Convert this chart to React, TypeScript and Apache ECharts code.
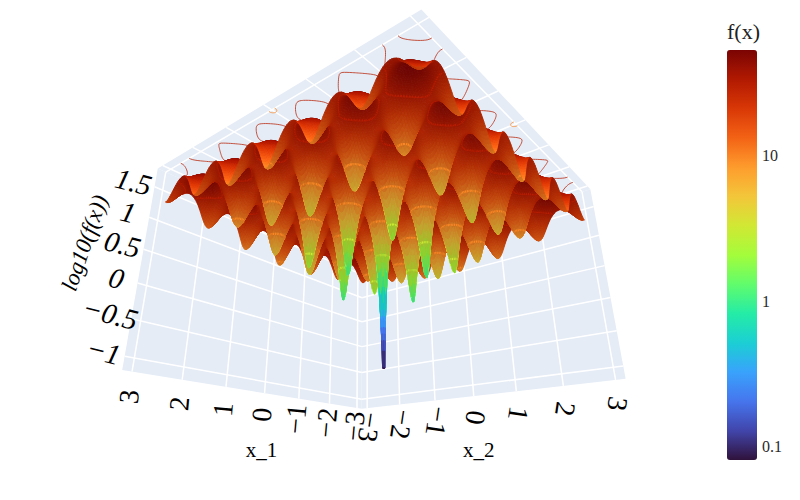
import React, { useEffect, useRef } from "react";
import * as echarts from "echarts";

// Half axis of the sampled grid (mirrored to negative side) and the ridge profile read along one axis
const halfAxis = [0.0143,0.022,0.03125,0.04,0.0625,0.09375,0.125,0.15625,0.1875,0.21875,0.25,0.28125,0.3125,0.34375,0.375,0.40625,0.4375,0.46875,0.5,0.53125,0.5625,0.59375,0.625,0.65625,0.6875,0.71875,0.75,0.78125,0.8125,0.84375,0.875,0.90625,0.9375,0.96875,1,1.03125,1.0625,1.09375,1.125,1.15625,1.1875,1.21875,1.25,1.28125,1.3125,1.34375,1.375,1.40625,1.4375,1.46875,1.5,1.53125,1.5625,1.59375,1.625,1.65625,1.6875,1.71875,1.75,1.78125,1.8125,1.84375,1.875,1.90625,1.9375,1.96875,2,2.03125,2.0625,2.09375,2.125,2.15625,2.1875,2.21875,2.25,2.28125,2.3125,2.34375,2.375,2.40625,2.4375,2.46875,2.5,2.53125,2.5625,2.59375,2.625,2.65625,2.6875,2.71875,2.75,2.78125,2.8125,2.84375,2.875,2.90625,2.9375,2.96875,3];
const halfProfile = [0.0406,0.096,0.193,0.316,0.765,1.694,2.945,4.468,6.208,8.097,10.063,12.03,13.925,15.674,17.212,18.48,19.43,20.028,20.25,20.09,19.555,18.668,17.462,15.987,14.3,12.468,10.563,8.659,6.833,5.156,3.695,2.506,1.64,1.13,1,1.255,1.89,2.881,4.195,5.781,7.583,9.534,11.563,13.593,15.55,17.362,18.962,20.293,21.305,21.965,22.25,22.153,21.68,20.855,19.712,18.299,16.675,14.905,13.063,11.222,9.458,7.843,6.445,5.319,4.515,4.068,4,4.318,5.015,6.069,7.445,9.093,10.958,12.972,15.063,17.155,19.175,21.049,22.712,24.105,25.18,25.903,26.25,26.215,25.805,25.043,23.962,22.612,21.05,19.343,17.563,15.784,14.083,12.531,11.195,10.131,9.39,9.005,9];
const turbo = ["#30123b","#4145ab","#4675ed","#39a2fc","#1bcfd4","#24eca6","#61fc6c","#a4fc3b","#d1e834","#f3c63a","#fe9b2d","#f36315","#d93806","#b11901","#7a0403"];
const xTicks = [3,2,1,0,-1,-2,-3];
const yTicks = [-3,-2,-1,0,1,2,3];
const zTicks = [1.5,1,0.5,0,-0.5,-1];
const contourLevels = [0.5,1,1.5];
const colorTicks: [string, number][] = [["10",1],["1",0],["0.1",-1]];

const B = 3.18, ZMIN = -1.175, ZMAX = 1.81, CMIN = -1.09, CMAX = 1.728;
const zc = (ZMIN+ZMAX)/2, zh = (ZMAX-ZMIN)/2;

// camera calibration: box landmarks to screen
const anchors = [
  [B,-B,ZMIN,122,370],[-B,-B,ZMIN,362,409],[-B,B,ZMIN,626,379],
  [B,-B,ZMAX,158,168],[-B,B,ZMAX,590,188],[B,B,ZMAX,422,10],
  [-B,-B,1,362,298],[-B,-B,0,362,347],[B,-B,1,149,218],[B,-B,0,137,283],
  [0,-B,ZMIN,265,392],[-B,0,ZMIN,473,396],[-B,B,1,599,236],
];
const nx = (x:number,y:number,z:number)=>[x/B,y/B,(z-zc)/zh,1];
function solve(A:number[][],b:number[]){
  const n=b.length; const M=A.map((r,i)=>[...r,b[i]]);
  for(let c=0;c<n;c++){
    let p=c; for(let r=c+1;r<n;r++) if(Math.abs(M[r][c])>Math.abs(M[p][c])) p=r;
    [M[c],M[p]]=[M[p],M[c]];
    for(let r=0;r<n;r++){ if(r===c) continue; const f=M[r][c]/M[c][c]; for(let k=c;k<=n;k++) M[r][k]-=f*M[c][k]; }
  }
  return M.map((r,i)=>r[n]/r[i]);
}
const cam=(()=>{
  const rows:number[][]=[],rhs:number[]=[];
  for(const [x,y,z,u0,v0] of anchors){
    const X=nx(x,y,z),u=(u0-400)/400,v=(v0-250)/400;
    rows.push([...X,0,0,0,0,-u*X[0],-u*X[1],-u*X[2]]);rhs.push(u);
    rows.push([0,0,0,0,...X,-v*X[0],-v*X[1],-v*X[2]]);rhs.push(v);
  }
  const N=11; const A:number[][]=[],b:number[]=[];
  for(let i=0;i<N;i++){ A.push(new Array(N).fill(0)); b.push(0);
    rows.forEach((r,k)=>{ for(let j=0;j<N;j++) A[i][j]+=r[i]*r[j]; b[i]+=r[i]*rhs[k]; }); }
  return solve(A,b);
})();
function project(x:number,y:number,z:number){
  const X=nx(x,y,z);
  const w=cam[8]*X[0]+cam[9]*X[1]+cam[10]*X[2]+1;
  const u=(cam[0]*X[0]+cam[1]*X[1]+cam[2]*X[2]+cam[3])/w;
  const v=(cam[4]*X[0]+cam[5]*X[1]+cam[6]*X[2]+cam[7])/w;
  return [u*400+400,v*400+250,w];
}
function colorAt(z:number){
  const t=Math.min(1,Math.max(0,(z-CMIN)/(CMAX-CMIN)))*(turbo.length-1);
  const i=Math.min(turbo.length-2,Math.floor(t)),f=t-i;
  const a=echarts.color.parse(turbo[i]),b=echarts.color.parse(turbo[i+1]);
  return `rgb(${Math.round(a[0]+(b[0]-a[0])*f)},${Math.round(a[1]+(b[1]-a[1])*f)},${Math.round(a[2]+(b[2]-a[2])*f)})`;
}
const signedArea=(p:number[][])=>{let s=0;for(let k=0;k<p.length;k++){const a=p[k],b=p[(k+1)%p.length];s+=a[0]*b[1]-b[0]*a[1];}return s;};
const underSign=Math.sign(signedArea([project(0,0,0),project(1,0,0),project(1,1,0),project(0,1,0)]));

const gridX=[...halfAxis.map(v=>-v).reverse(),...halfAxis];
const profile=[...[...halfProfile].reverse(),...halfProfile];
const Z=profile.map(a=>profile.map(b=>Math.log10(a+b)));

type Seg={p:number[];q:number[];color:string};
type Cell={pts:number[][];shade:number;lines:Seg[];depth:number;z:number};
let cells:Cell[]=[];
const ceilingSegs:Seg[]=[];
for(let i=0;i<gridX.length-1;i++) for(let j=0;j<gridX.length-1;j++){
  const xa=gridX[i],xb=gridX[i+1],ya=gridX[j],yb=gridX[j+1];
  const za=Z[i][j],zb=Z[i+1][j],zcc=Z[i+1][j+1],zd=Z[i][j+1];
  const corners=[[xa,ya,za],[xb,ya,zb],[xb,yb,zcc],[xa,yb,zd]];
  const pts=corners.map(c=>project(c[0],c[1],c[2]));
  const gx=((zb+zcc-za-zd)/2/zh)/((xb-xa)/B), gy=((zcc+zd-za-zb)/2/zh)/((yb-ya)/B);
  const len=Math.sqrt(1+gx*gx+gy*gy);
  const zMean=(za+zb+zcc+zd)/4;
  const isTopSide=Math.sign(signedArea(pts))!==underSign;
  const shade=isTopSide?1.05:0.8+0.07/len+0.17*Math.min(1,Math.max(0,0.5-zMean));
  const mid=project((xa+xb)/2,(ya+yb)/2,zMean);
  const lines:Seg[]=[];
  for(const lv of contourLevels){
    const cr:number[][]=[];
    for(let e=0;e<4;e++){
      const c0=corners[e],c1=corners[(e+1)%4];
      if((c0[2]<lv)!==(c1[2]<lv)){
        const t=(lv-c0[2])/(c1[2]-c0[2]);
        cr.push([c0[0]+(c1[0]-c0[0])*t,c0[1]+(c1[1]-c0[1])*t]);
      }
    }
    for(let k=0;k+1<cr.length;k+=2){
      const color=colorAt(lv);
      lines.push({p:project(cr[k][0],cr[k][1],lv),q:project(cr[k+1][0],cr[k+1][1],lv),color});
      ceilingSegs.push({p:project(cr[k][0],cr[k][1],ZMAX),q:project(cr[k+1][0],cr[k+1][1],ZMAX),color});
    }
  }
  cells.push({pts,shade,lines,depth:mid[2],z:zMean});
}
// near to far: drop cells wholly behind what is already painted, then paint far to near
cells.sort((a,b)=>a.depth-b.depth);
{
  const W=800,H=500,mask=new Uint8Array(W*H);
  const kept:Cell[]=[];
  for(const c of cells){
    let x0=1e9,x1=-1e9,y0=1e9,y1=-1e9;
    for(const p of c.pts){x0=Math.min(x0,p[0]);x1=Math.max(x1,p[0]);y0=Math.min(y0,p[1]);y1=Math.max(y1,p[1]);}
    const bx0=Math.max(0,Math.floor(x0)-1),bx1=Math.min(W-1,Math.ceil(x1)+1),by0=Math.max(0,Math.floor(y0)-1),by1=Math.min(H-1,Math.ceil(y1)+1);
    let hidden=true;
    for(let y=by0;y<=by1&&hidden;y++) for(let x=bx0;x<=bx1;x++) if(!mask[y*W+x]){hidden=false;break;}
    if(hidden) continue;
    kept.push(c);
    for(let y=by0;y<=by1;y++){
      const cy=y+0.5; const xs:number[]=[];
      for(let e=0;e<4;e++){
        const a=c.pts[e],b=c.pts[(e+1)%4];
        if((a[1]<=cy)!==(b[1]<=cy)) xs.push(a[0]+(cy-a[1])/(b[1]-a[1])*(b[0]-a[0]));
      }
      xs.sort((m,n)=>m-n);
      for(let k=0;k+1<xs.length;k+=2) for(let x=Math.ceil(xs[k]-0.5);x+0.5<=xs[k+1];x++) if(x>=0&&x<W) mask[y*W+x]=1;
    }
  }
  cells=kept.reverse();
}

const planes=[
  [[B,-B,ZMIN],[-B,-B,ZMIN],[-B,-B,ZMAX],[B,-B,ZMAX]],
  [[-B,-B,ZMIN],[-B,B,ZMIN],[-B,B,ZMAX],[-B,-B,ZMAX]],
  [[-B,-B,ZMAX],[-B,B,ZMAX],[B,B,ZMAX],[B,-B,ZMAX]],
].map(pl=>pl.map(c=>project(c[0],c[1],c[2])));
const gridSegs:number[][][]=[];
for(const t of xTicks){
  gridSegs.push([project(t,-B,ZMIN),project(t,-B,ZMAX)]);
  gridSegs.push([project(t,-B,ZMAX),project(t,B,ZMAX)]);
}
for(const t of yTicks){
  gridSegs.push([project(-B,t,ZMIN),project(-B,t,ZMAX)]);
  gridSegs.push([project(-B,t,ZMAX),project(B,t,ZMAX)]);
}
for(const t of zTicks){
  gridSegs.push([project(B,-B,t),project(-B,-B,t)]);
  gridSegs.push([project(-B,-B,t),project(-B,B,t)]);
}
const SERIF="'Liberation Serif','Times New Roman',serif";
type Lab={pos:number[];text:string;rot:number;font:string};
const minus=(v:number)=>String(v).replace("-","\u2212");
const labels:Lab[]=[];
xTicks.forEach(t=>{const p=project(t,-B,ZMIN);labels.push({pos:[p[0]-3,p[1]+18+7*(t+3)/6],text:minus(t),rot:1.48,font:`28px ${SERIF}`});});
yTicks.forEach(t=>{const p=project(-B,t,ZMIN);labels.push({pos:[p[0]+2,p[1]+19+5*(t+3)/6],text:minus(t),rot:-1.72,font:`28px ${SERIF}`});});
zTicks.forEach(t=>{const p=project(B,-B,t);labels.push({pos:[p[0]-21,p[1]-5],text:minus(t),rot:-0.25,font:`italic 29px ${SERIF}`});});
{
  const a=project(0,-B,ZMIN),b=project(-B,0,ZMIN),c=project(B,-B,0.25);
  labels.push({pos:[a[0]-3,a[1]+57],text:"x_1",rot:0,font:`21px ${SERIF}`});
  labels.push({pos:[b[0]+5,b[1]+54],text:"x_2",rot:0,font:`21px ${SERIF}`});
  labels.push({pos:[c[0]-56,c[1]-23],text:"log10(f(x))",rot:1.24,font:`italic 23px ${SERIF}`});
}

function lit(color:string,s:number){
  const c=echarts.color.parse(color);
  const f=(v:number)=>Math.min(255,Math.round(v*s));
  return `rgb(${f(c[0])},${f(c[1])},${f(c[2])})`;
}

export default function App(){
  const ref=useRef<HTMLDivElement>(null);
  useEffect(()=>{
    const chart=echarts.init(ref.current!,undefined,{renderer:"svg",width:800,height:500});
    const cbY=(v:number)=>50+410*(CMAX-v)/(CMAX-CMIN);
    chart.setOption({
      animation:false,
      backgroundColor:"#fff",
      grid:{left:0,top:0,width:800,height:500,show:false},
      xAxis:{type:"value",min:0,max:800,show:false},
      yAxis:{type:"value",min:0,max:500,inverse:true,show:false},
      visualMap:{
        type:"continuous",min:CMIN,max:CMAX,seriesIndex:3,dimension:2,
        left:727,top:50,itemWidth:30,itemHeight:410,padding:0,calculable:false,
        realtime:false,hoverLink:false,text:undefined,showLabel:false,
        inRange:{color:turbo},
        textStyle:{color:"rgba(0,0,0,0)",fontSize:1},
      },
      graphic:[
        {type:"text",x:727,y:42,silent:true,style:{text:"f(x)",font:`22px ${SERIF}`,fill:"#222",verticalAlign:"bottom"}},
        ...colorTicks.map(([t,v])=>({type:"text",x:762,y:cbY(v),silent:true,style:{text:t,font:`16px ${SERIF}`,fill:"#2a2a2a",verticalAlign:"middle"}})),
      ],
      series:[
        {type:"custom",z:1,silent:true,clip:false,data:planes.map(p=>[p[0][0],p[0][1]]),
          renderItem:(params:any,api:any)=>({type:"polygon",shape:{points:planes[params.dataIndex].map(p=>api.coord([p[0],p[1]]))},style:{fill:"#E5ECF6"}})},
        {type:"custom",z:2,silent:true,clip:false,data:gridSegs.map(s=>[s[0][0],s[0][1]]),
          renderItem:(params:any,api:any)=>{const s=gridSegs[params.dataIndex];const a=api.coord([s[0][0],s[0][1]]),b=api.coord([s[1][0],s[1][1]]);
            return {type:"line",shape:{x1:a[0],y1:a[1],x2:b[0],y2:b[1]},style:{stroke:"#fff",lineWidth:1.5}};}},
        {type:"custom",z:3,silent:true,clip:false,data:ceilingSegs.map(s=>[s.p[0],s.p[1]]),
          renderItem:(params:any,api:any)=>{const s=ceilingSegs[params.dataIndex];const a=api.coord([s.p[0],s.p[1]]),b=api.coord([s.q[0],s.q[1]]);
            return {type:"line",shape:{x1:a[0],y1:a[1],x2:b[0],y2:b[1]},style:{stroke:s.color,lineWidth:1,opacity:0.75}};}},
        {type:"custom",z:4,silent:true,clip:false,progressive:0,
          dimensions:["px","py","z"],encode:{x:0,y:1},
          data:cells.map(c=>[c.pts[0][0],c.pts[0][1],c.z]),
          renderItem:(params:any,api:any)=>{
            const c=cells[params.dataIndex];
            const col=lit(api.visual("color"),c.shade);
            const poly={type:"polygon",shape:{points:c.pts.map(p=>api.coord([p[0],p[1]]))},style:{fill:col,stroke:col,lineWidth:0.9}};
            if(!c.lines.length) return poly;
            return {type:"group",children:[poly,...c.lines.map(l=>{const a=api.coord([l.p[0],l.p[1]]),b=api.coord([l.q[0],l.q[1]]);
              return {type:"line",shape:{x1:a[0],y1:a[1],x2:b[0],y2:b[1]},style:{stroke:l.color,lineWidth:2.2}};})]};
          }},
        {type:"custom",z:5,silent:true,clip:false,data:labels.map(l=>l.pos),
          renderItem:(params:any,api:any)=>{const l=labels[params.dataIndex];const a=api.coord(l.pos);
            return {type:"text",x:a[0],y:a[1],rotation:l.rot,style:{text:l.text,font:l.font,fill:"#000",align:"center",verticalAlign:"middle"}};}},
      ],
    });
    return ()=>chart.dispose();
  },[]);
  return <div ref={ref} style={{position:"absolute",left:0,top:0,width:800,height:500}}/>;
}
